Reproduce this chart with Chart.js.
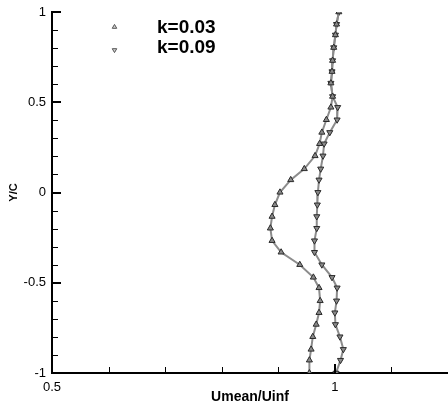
<!DOCTYPE html>
<html>
<head>
<meta charset="utf-8">
<script src="https://cdn.jsdelivr.net/npm/chart.js@4.4.0/dist/chart.umd.min.js"></script>
<style>
    html, body { margin: 0; padding: 0; background: #fff; }
    #wrap { width: 448px; height: 406px; }
</style>
</head>
<body>
<div id="wrap"><canvas id="chart" width="448" height="406"></canvas></div>
<script>
// survey stations, top to bottom
var yPos = [1.0, 0.932, 0.873, 0.803, 0.731, 0.670, 0.606, 0.532, 0.472, 0.403,
            0.333, 0.270, 0.203, 0.131, 0.070, 0.001, -0.068, -0.133, -0.198, -0.267,
            -0.331, -0.400, -0.470, -0.528, -0.600, -0.666, -0.731, -0.799, -0.869, -0.929, -1.0];
var uK003 = [1.007, 1.003, 1.001, 0.998, 0.996, 0.995, 0.993, 0.996, 0.993, 0.985,
             0.977, 0.973, 0.965, 0.946, 0.922, 0.903, 0.894, 0.889, 0.886, 0.889,
             0.905, 0.938, 0.962, 0.972, 0.974, 0.972, 0.967, 0.961, 0.958, 0.955, 0.955];
var uK009 = [1.007, 1.003, 1.001, 0.998, 0.996, 0.995, 0.993, 0.996, 1.005, 1.004,
             0.991, 0.981, 0.979, 0.975, 0.972, 0.970, 0.969, 0.968, 0.968, 0.964,
             0.964, 0.977, 0.995, 1.004, 1.003, 1.000, 1.001, 1.009, 1.015, 1.010, 1.002];
var seriesNames = ['k=0.03', 'k=0.09'];
var xTickLabels = [0.5, 1];
var xMinorTicks = [0.6, 0.7, 0.8, 0.9, 1.1];
var yTickLabels = [-1, -0.5, 0, 0.5, 1];
var yMinorTicks = [-0.9, -0.8, -0.7, -0.6, -0.4, -0.3, -0.2, -0.1, 0.1, 0.2, 0.3, 0.4, 0.6, 0.7, 0.8, 0.9];

var FONT = '"Liberation Sans", Arial, sans-serif';

function pts(u) {
    return u.map(function(v, i) { return { x: v, y: yPos[i] }; });
}

// tecplot-style ticks pointing into the plot
var insideTicks = {
    id: 'insideTicks',
    afterDraw: function(chart) {
        var ctx = chart.ctx, a = chart.chartArea;
        var xs = chart.scales.x, ys = chart.scales.y;
        ctx.save();
        ctx.strokeStyle = '#000';
        function tick(x1, y1, x2, y2, w) {
            ctx.lineWidth = w;
            ctx.beginPath(); ctx.moveTo(x1, y1); ctx.lineTo(x2, y2); ctx.stroke();
        }
        yTickLabels.forEach(function(v) { var p = Math.round(ys.getPixelForValue(v)); tick(a.left, p, a.left + 9, p, 2); });
        yMinorTicks.forEach(function(v) { var p = Math.round(ys.getPixelForValue(v)) + 0.5; tick(a.left, p, a.left + 6, p, 1); });
        xTickLabels.forEach(function(v) { var p = Math.round(xs.getPixelForValue(v)); tick(p, a.bottom, p, a.bottom - 9, 2); });
        xMinorTicks.forEach(function(v) { var p = Math.round(xs.getPixelForValue(v)) + 0.5; tick(p, a.bottom, p, a.bottom - 6, 1); });
        ctx.restore();
    }
};

var markerLegend = {
    id: 'markerLegend',
    afterDraw: function(chart) {
        var ctx = chart.ctx;
        var rows = [{ y: 27, rot: 0, ty: 28 }, { y: 50, rot: 180, ty: 48 }];
        ctx.save();
        rows.forEach(function(r, i) {
            ctx.fillStyle = '#d0d0d0';
            ctx.strokeStyle = '#555';
            ctx.lineWidth = 1;
            Chart.helpers.drawPoint(ctx, { pointStyle: 'triangle', radius: 2.6, rotation: r.rot, borderWidth: 1 }, 114.5, r.y);
            ctx.fillStyle = '#000';
            ctx.font = 'bold 19px ' + FONT;
            ctx.textBaseline = 'middle';
            ctx.fillText(seriesNames[i], 157, r.ty);
        });
        ctx.restore();
    }
};

function lineSet(label, u, rot) {
    return {
        label: label,
        data: pts(u),
        showLine: true,
        borderColor: '#8c8c8c',
        borderWidth: 2,
        tension: 0,
        pointStyle: 'triangle',
        pointRotation: rot,
        pointRadius: 3.5,
        pointBackgroundColor: '#8a8a8a',
        pointBorderColor: '#2a2a2a',
        pointBorderWidth: 1
    };
}

function plain(v) { return String(v); }

new Chart(document.getElementById('chart'), {
    type: 'scatter',
    data: {
        datasets: [lineSet(seriesNames[0], uK003, 0), lineSet(seriesNames[1], uK009, 180)]
    },
    options: {
        responsive: false,
        animation: false,
        devicePixelRatio: 1,
        layout: { autoPadding: false, padding: { top: 12, right: 0, left: 0, bottom: 0 } },
        plugins: { legend: { display: false }, tooltip: { enabled: false } },
        scales: {
            x: {
                type: 'linear',
                min: 0.5,
                max: 1.2,
                afterBuildTicks: function(s) { s.ticks = xTickLabels.map(function(v) { return { value: v }; }); },
                afterFit: function(s) { s.height = 33; s.paddingLeft = 0; s.paddingRight = 0; },
                grid: { display: false, drawTicks: false },
                border: { display: true, color: '#000', width: 2 },
                ticks: { padding: 7, color: '#000', maxRotation: 0, callback: plain, font: { family: FONT, size: 13 } },
                title: { display: true, text: 'Umean/Uinf', color: '#000', padding: 0, font: { family: FONT, size: 14, weight: 'bold' } }
            },
            y: {
                type: 'linear',
                min: -1,
                max: 1,
                afterBuildTicks: function(s) { s.ticks = yTickLabels.map(function(v) { return { value: v }; }); },
                afterFit: function(s) { s.width = 52; s.paddingTop = 0; s.paddingBottom = 0; },
                grid: { display: false, drawTicks: false },
                border: { display: true, color: '#000', width: 2 },
                ticks: { padding: 6, color: '#000', callback: plain, font: { family: FONT, size: 13 } },
                title: { display: true, text: 'Y/C', color: '#000', padding: 7, font: { family: FONT, size: 11, weight: 'bold' } }
            }
        }
    },
    plugins: [insideTicks, markerLegend]
});
</script>
</body>
</html>
